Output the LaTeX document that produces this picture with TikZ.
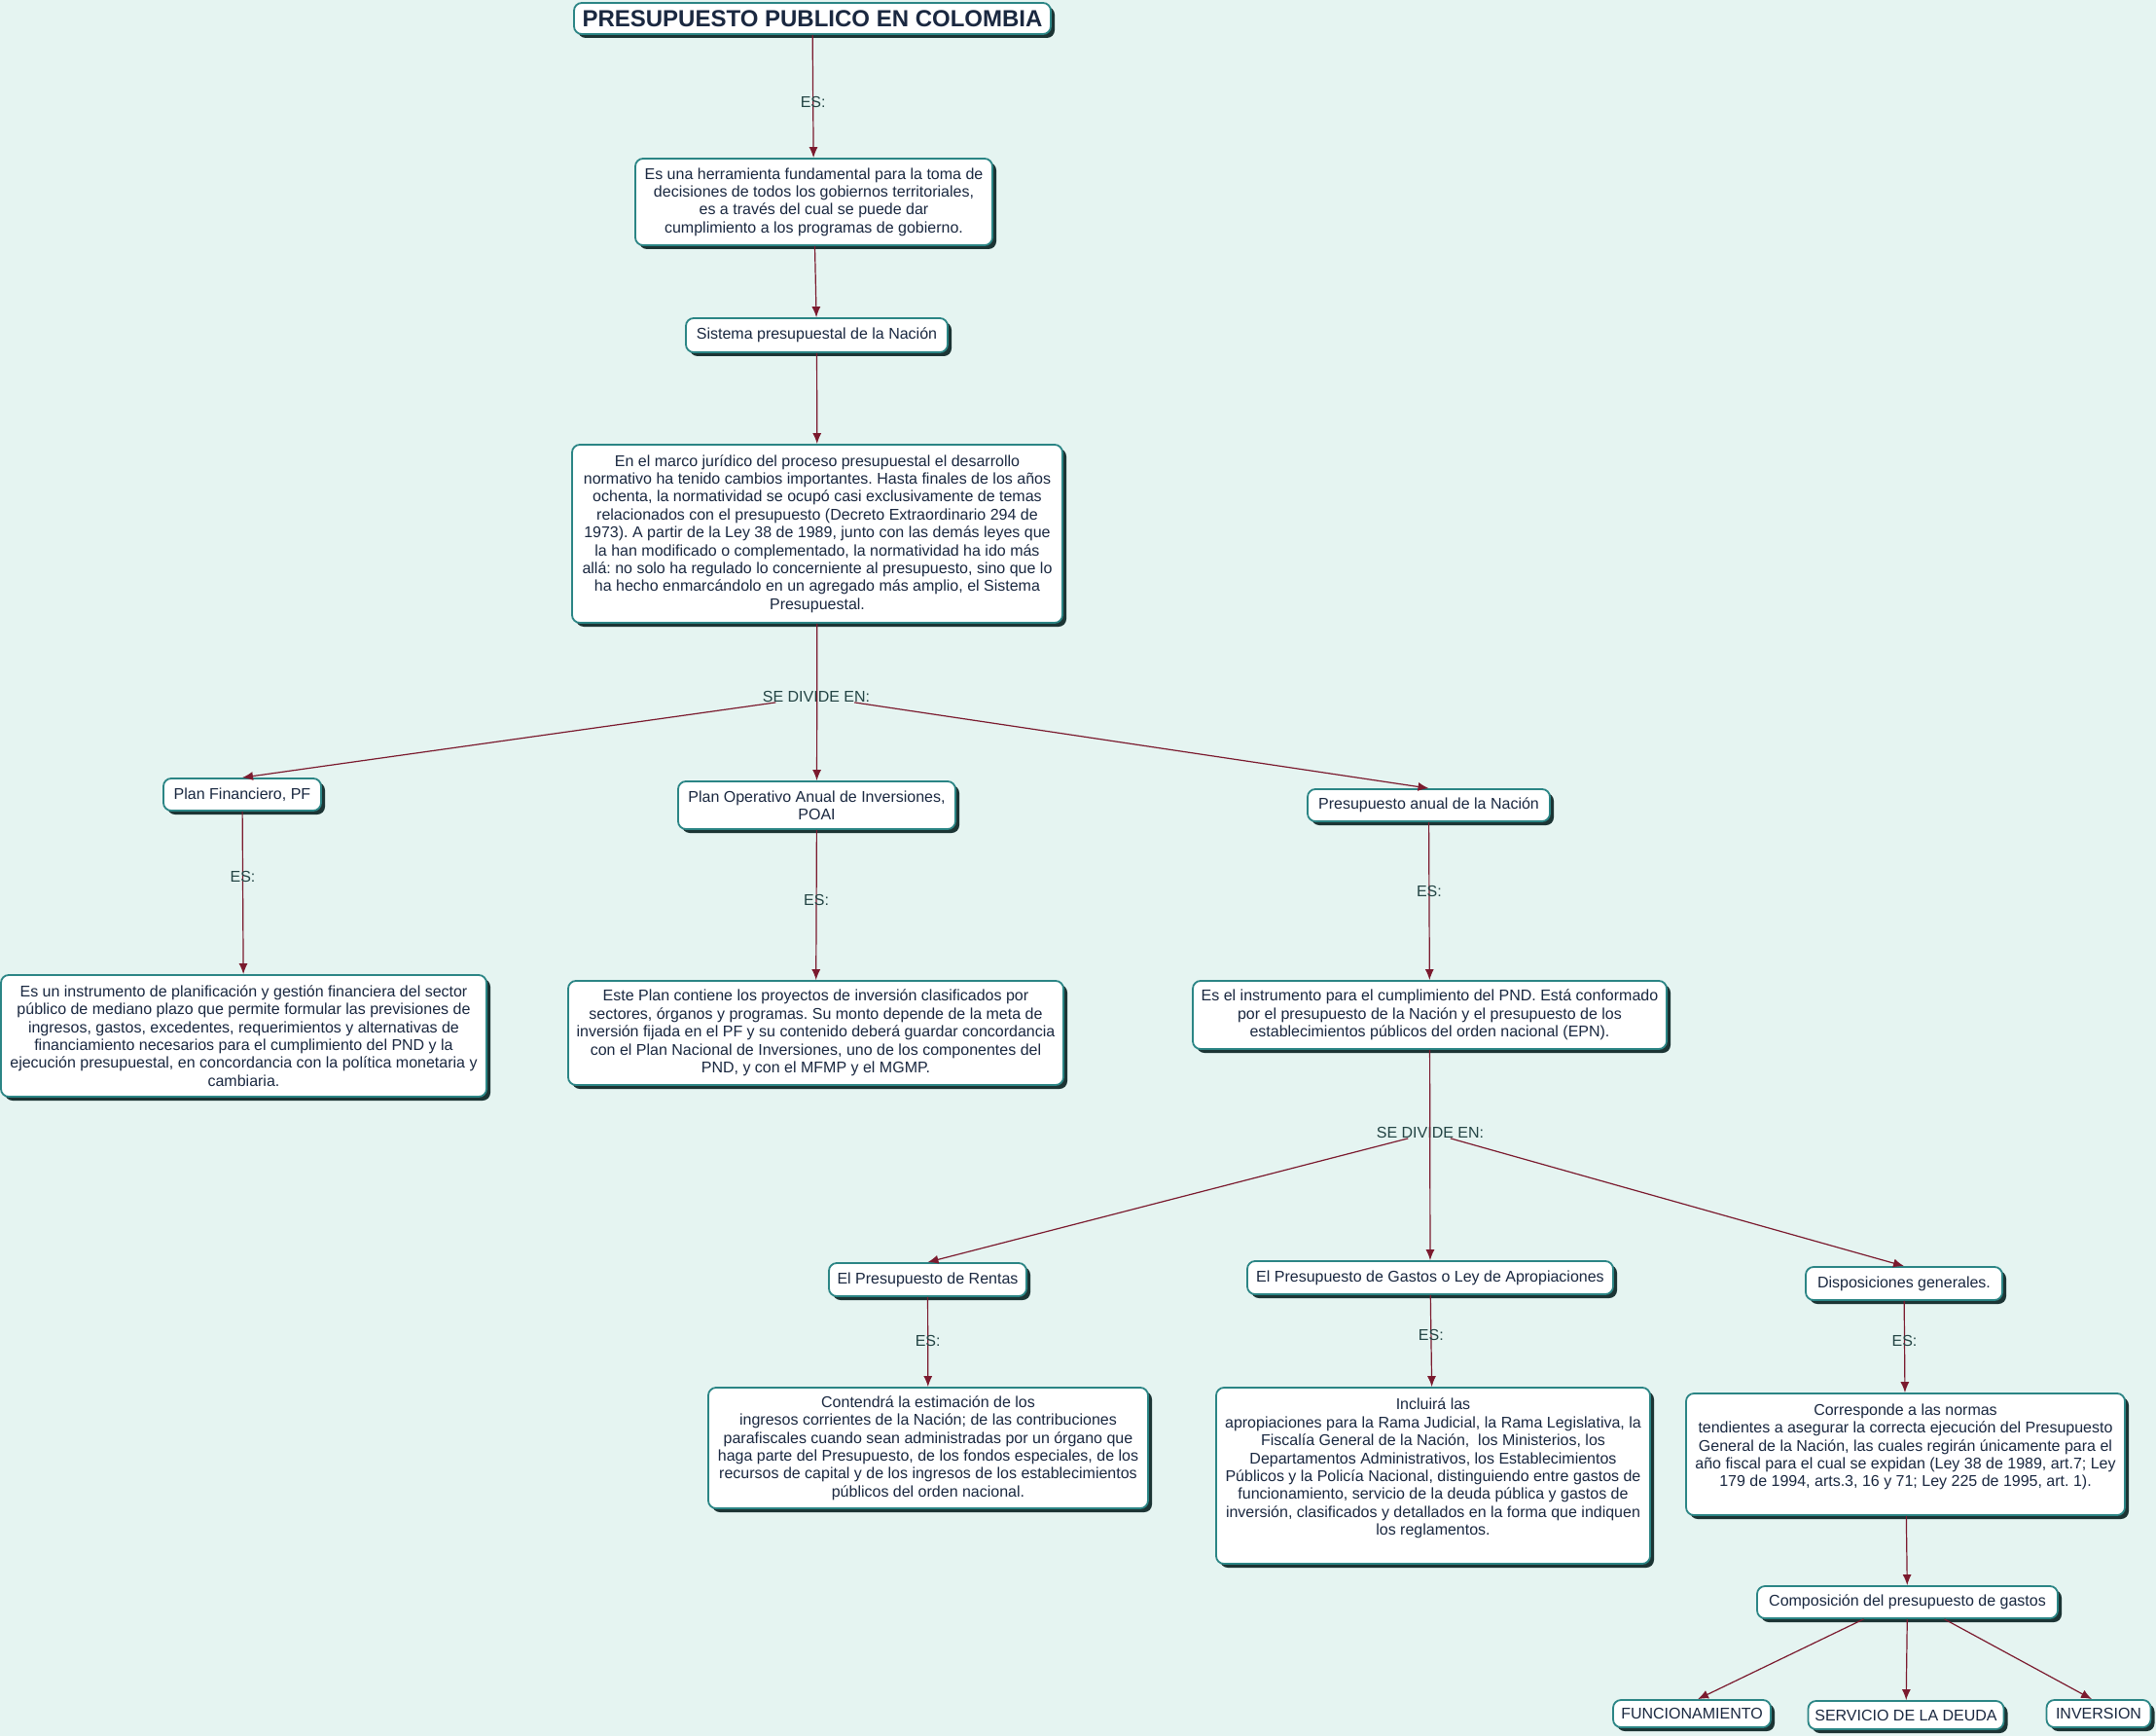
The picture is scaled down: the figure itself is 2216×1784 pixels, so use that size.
\documentclass[tikz,border=0pt]{standalone}
\usepackage{fontspec}
\setmainfont{Liberation Sans}
\usetikzlibrary{arrows.meta,shadows}
\definecolor{bgc}{HTML}{E5F4F1}
\definecolor{bordc}{HTML}{2B8585}
\definecolor{shadc}{HTML}{1C3434}
\definecolor{txtc}{HTML}{1A2840}
\definecolor{arrc}{HTML}{7B1A2E}
\definecolor{lblc}{HTML}{234444}
\frenchspacing
\begin{document}
\begin{tikzpicture}[x=1pt,y=-1pt,
  box/.style={draw=bordc, line width=1.8pt, fill=white, rounded corners=8pt,
    text=txtc, font=\fontsize{16}{18.4}\selectfont, align=center, inner sep=2pt,
    drop shadow={shadow xshift=4pt, shadow yshift=-4pt, fill=shadc, opacity=1}},
  lbl/.style={text=lblc, font=\fontsize{16}{18.4}\selectfont, inner sep=0pt},
  arr/.style={draw=arrc, line width=1.2pt, -{Latex[length=11pt,width=9pt]}},
  ln/.style={draw=arrc, line width=1.2pt}]
\fill[bgc] (0,0) rectangle (2216,1784);
\useasboundingbox (0,0) rectangle (2216,1784);

% nodes
\node[box, minimum width=490pt, minimum height=32pt, font=\fontsize{24}{28}\selectfont\bfseries] (title) at (835,19) {PRESUPUESTO PUBLICO EN COLOMBIA};

\node[box, minimum width=367pt, minimum height=89pt] (t1) at (836.5,207.5)
 {Es una herramienta fundamental para la toma de\\decisiones de todos los gobiernos territoriales,\\es a través del cual se puede dar\\cumplimiento a los programas de gobierno.};

\node[box, minimum width=269pt, minimum height=35pt] (sis) at (839.5,344.5) {Sistema presupuestal de la Nación};

\node[box, minimum width=504pt, minimum height=183pt] (marco) at (840,548.5)
 {En el marco jurídico del proceso presupuestal el desarrollo\\normativo ha tenido cambios importantes. Hasta finales de los años\\ochenta, la normatividad se ocupó casi exclusivamente de temas\\relacionados con el presupuesto (Decreto Extraordinario 294 de\\1973). A partir de la Ley 38 de 1989, junto con las demás leyes que\\la han modificado o complementado, la normatividad ha ido más\\allá: no solo ha regulado lo concerniente al presupuesto, sino que lo\\ha hecho enmarcándolo en un agregado más amplio, el Sistema\\Presupuestal.};

\node[lbl] (div1) at (839,716) {SE DIVIDE EN:};

\node[box, minimum width=162pt, minimum height=33pt] (pf) at (249,816.5) {Plan Financiero, PF};
\node[box, minimum width=499pt, minimum height=125pt] (pfdesc) at (250.5,1064.5)
 {Es un instrumento de planificación y gestión financiera del sector\\público de mediano plazo que permite formular las previsiones de\\ingresos, gastos, excedentes, requerimientos y alternativas de\\financiamiento necesarios para el cumplimiento del PND y la\\ejecución presupuestal, en concordancia con la política monetaria y\\cambiaria.};

\node[box, minimum width=285pt, minimum height=49pt] (poai) at (839.5,827.5) {Plan Operativo Anual de Inversiones,\\POAI};
\node[box, minimum width=509pt, minimum height=107pt] (poaidesc) at (838.5,1061.5)
 {Este Plan contiene los proyectos de inversión clasificados por\\sectores, órganos y programas. Su monto depende de la meta de\\inversión fijada en el PF y su contenido deberá guardar concordancia\\con el Plan Nacional de Inversiones, uno de los componentes del\\PND, y con el MFMP y el MGMP.};

\node[box, minimum width=249pt, minimum height=33pt] (pan) at (1468.5,827.5) {Presupuesto anual de la Nación};
\node[box, minimum width=487pt, minimum height=70pt] (pandesc) at (1469.5,1043)
 {Es el instrumento para el cumplimiento del PND. Está conformado\\por el presupuesto de la Nación y el presupuesto de los\\establecimientos públicos del orden nacional (EPN).};

\node[lbl] (div2) at (1470,1164) {SE DIVIDE EN:};

\node[box, minimum width=203pt, minimum height=34pt] (rentas) at (953.5,1315) {El Presupuesto de Rentas};
\node[box, minimum width=452pt, minimum height=124pt] (rentasdesc) at (954,1488)
 {Contendrá la estimación de los\\ingresos corrientes de la Nación; de las contribuciones\\parafiscales cuando sean administradas por un órgano que\\haga parte del Presupuesto, de los fondos especiales, de los\\recursos de capital y de los ingresos de los establecimientos\\públicos del orden nacional.};

\node[box, minimum width=376pt, minimum height=34pt] (gastos) at (1470,1313) {El Presupuesto de Gastos o Ley de Apropiaciones};
\node[box, minimum width=446pt, minimum height=181pt] (gastosdesc) at (1473,1516.5)
 {Incluirá las\\apropiaciones para la Rama Judicial, la Rama Legislativa, la\\Fiscalía General de la Nación,\ \ los Ministerios, los\\Departamentos Administrativos, los Establecimientos\\Públicos y la Policía Nacional, distinguiendo entre gastos de\\funcionamiento, servicio de la deuda pública y gastos de\\inversión, clasificados y detallados en la forma que indiquen\\los reglamentos.\\ \mbox{}};

\node[box, minimum width=202pt, minimum height=34pt] (disp) at (1957,1319) {Disposiciones generales.};
\node[box, minimum width=451pt, minimum height=125pt] (dispdesc) at (1958.5,1494.5)
 {Corresponde a las normas\\tendientes a asegurar la correcta ejecución del Presupuesto\\General de la Nación, las cuales regirán únicamente para el\\año fiscal para el cual se expidan (Ley 38 de 1989, art.7; Ley\\179 de 1994, arts.3, 16 y 71; Ley 225 de 1995, art. 1).\\ \mbox{}};

\node[box, minimum width=309pt, minimum height=33pt] (comp) at (1960.5,1646.5) {Composición del presupuesto de gastos};
\node[box, minimum width=162pt, minimum height=28pt] (func) at (1739,1761) {FUNCIONAMIENTO};
\node[box, minimum width=201pt, minimum height=29pt] (serv) at (1959,1762.5) {SERVICIO DE LA DEUDA};
\node[box, minimum width=107pt, minimum height=28pt] (inv) at (2157,1761) {INVERSION};

% connectors
\draw[arr] (title) -- node[lbl, pos=0.55] (es0) {ES:} (t1);
\draw[arr] (t1) -- (sis);
\draw[arr] (sis) -- (marco);
\draw[arr] (marco) -- (poai);
\draw[arr] (div1) -- (pf.north);
\draw[arr] (div1) -- (pan.north);
\draw[arr] (pf) -- node[lbl, pos=0.40] (es1) {ES:} (pfdesc);
\draw[arr] (poai) -- node[lbl, pos=0.47] (es2) {ES:} (poaidesc);
\draw[arr] (pan) -- node[lbl, pos=0.44] (es3) {ES:} (pandesc);
\draw[arr] (pandesc) -- (gastos);
\draw[arr] (div2) -- (rentas.north);
\draw[arr] (div2) -- (disp.north);
\draw[arr] (rentas) -- node[lbl, pos=0.49] (es4) {ES:} (rentasdesc);
\draw[arr] (gastos) -- node[lbl, pos=0.44] (es5) {ES:} (gastosdesc);
\draw[arr] (disp) -- node[lbl, pos=0.44] (es6) {ES:} (dispdesc);
\draw[arr] (dispdesc) -- (comp);
\draw[arr] ([xshift=-45pt]comp.south) -- ([xshift=6pt]func.north);
\draw[arr] (comp) -- (serv);
\draw[arr] ([xshift=38pt]comp.south) -- ([xshift=-7pt]inv.north);
\end{tikzpicture}
\end{document}
